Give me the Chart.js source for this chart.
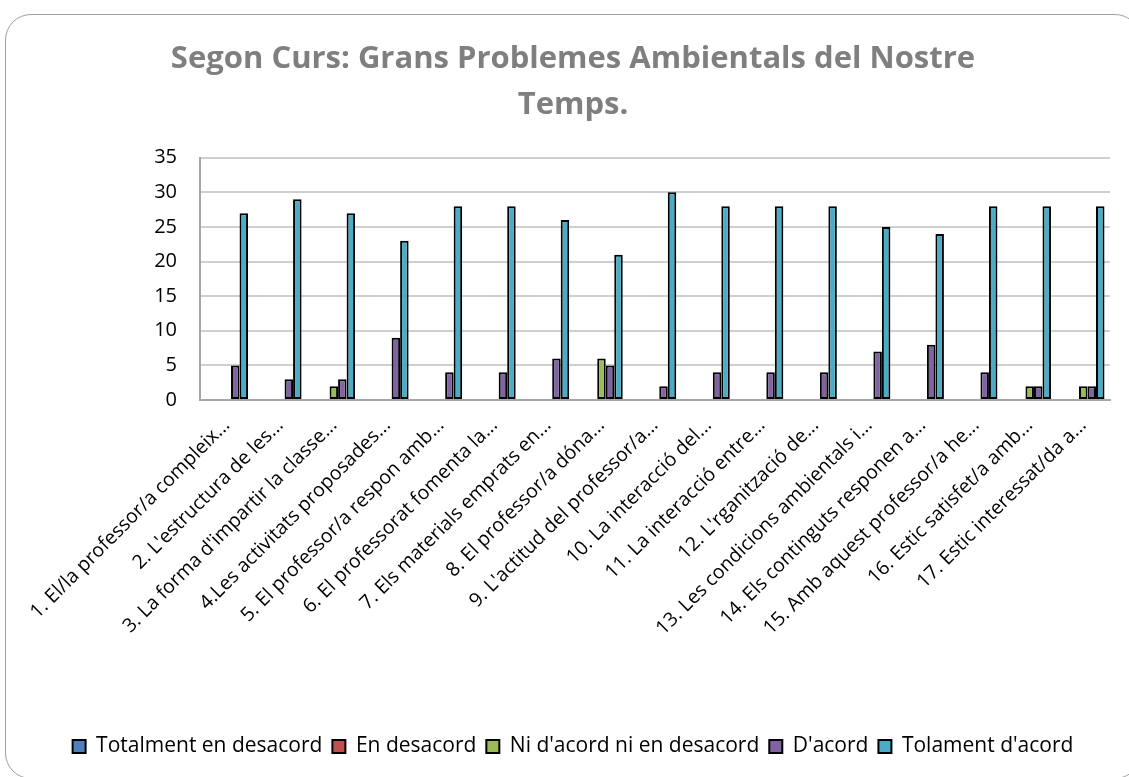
<!DOCTYPE html>
<html>
<head>
<meta charset="utf-8">
<script src="https://cdn.jsdelivr.net/npm/chart.js@4.4.1/dist/chart.umd.min.js"></script>
<style>
  html, body { margin: 0; padding: 0; background: #ffffff; overflow: hidden; }
  #frame { position: absolute; left: 5px; top: 14px; width: 1136px; height: 765px;
           border: 1.5px solid #a0a0a0; border-radius: 26px; box-sizing: border-box; }
  #wrap { position: absolute; left: 0; top: 0; width: 1129px; height: 777px; }
</style>
</head>
<body>
<div id="frame"></div>
<div id="wrap"><canvas id="c" width="1129" height="777"></canvas></div>
<script>
const categories = [
  "1. El/la professor/a compleix...",
  "2. L'estructura de les...",
  "3. La forma d'impartir la classe...",
  "4.Les activitats proposades...",
  "5. El professor/a respon amb...",
  "6. El professorat fomenta la...",
  "7. Els materials emprats en...",
  "8. El professor/a dóna...",
  "9. L'actitud del professor/a...",
  "10. La interacció del...",
  "11. La interacció entre...",
  "12. L'rganització de...",
  "13. Les condicions ambientals i...",
  "14. Els continguts responen a...",
  "15. Amb aquest professor/a he...",
  "16. Estic satisfet/a amb...",
  "17. Estic interessat/da a..."
];
const seriesNames = ["Totalment en desacord", "En desacord", "Ni d'acord ni en desacord", "D'acord", "Tolament d'acord"];
const totalmentDesacord = [0,0,0,0,0,0,0,0,0,0,0,0,0,0,0,0,0];
const enDesacord        = [0,0,0,0,0,0,0,0,0,0,0,0,0,0,0,0,0];
const niAcord           = [0,0,2,0,0,0,0,6,0,0,0,0,0,0,0,2,2];
const dAcord            = [5,3,3,9,4,4,6,5,2,4,4,4,7,8,4,2,2];
const tolamentAcord     = [27,29,27,23,28,28,26,21,30,28,28,28,25,24,28,28,28];
const yTicks = [0,5,10,15,20,25,30,35];
const titleLines = ["Segon Curs: Grans Problemes Ambientals del Nostre", "Temps."];

const colors = ["#4f81bd", "#c0504d", "#9bbb59", "#8064a2", "#4bacc6"];
const allData = [totalmentDesacord, enDesacord, niAcord, dAcord, tolamentAcord];

const FONT = "'Open Sans', Lato, sans-serif";

new Chart(document.getElementById('c'), {
  type: 'bar',
  data: {
    labels: categories,
    datasets: seriesNames.map((n, i) => ({
      label: n,
      data: allData[i],
      backgroundColor: colors[i],
      borderColor: '#000000',
      borderWidth: 2,
      borderSkipped: false,
      categoryPercentage: 0.795,
      barPercentage: 1.0
    }))
  },
  options: {
    responsive: false,
    animation: false,
    layout: { padding: { left: 36, right: 19, top: 36, bottom: 10 } },
    plugins: {
      tooltip: { enabled: false },
      title: {
        display: true,
        text: titleLines,
        color: '#7f7f7f',
        font: { family: FONT, size: 31, weight: 'bold', lineHeight: 1.48 },
        padding: { top: 0, bottom: 30 }
      },
      legend: {
        position: 'bottom',
        labels: {
          color: '#000000',
          font: { family: FONT, size: 21 },
          boxWidth: 13,
          boxHeight: 13,
          padding: 10
        }
      }
    },
    scales: {
      x: {
        grid: { display: false, drawTicks: false },
        border: { display: true, color: '#a6a6a6', width: 2 },
        ticks: {
          color: '#000000',
          font: { family: FONT, size: 19.5 },
          maxRotation: 45, minRotation: 45,
          autoSkip: false,
          padding: 14
        },
        afterFit: (s) => { s.height = 326; }
      },
      y: {
        min: 0, max: 35,
        afterBuildTicks: (s) => { s.ticks = yTicks.map(v => ({ value: v })); },
        grid: { color: '#cfcfcf', lineWidth: 2, drawTicks: false },
        border: { display: true, color: '#a6a6a6', width: 2 },
        ticks: {
          color: '#000000',
          font: { family: FONT, size: 20 },
          padding: 23
        },
        afterFit: (s) => { s.width = 164; }
      }
    }
  }
});
</script>
</body>
</html>
